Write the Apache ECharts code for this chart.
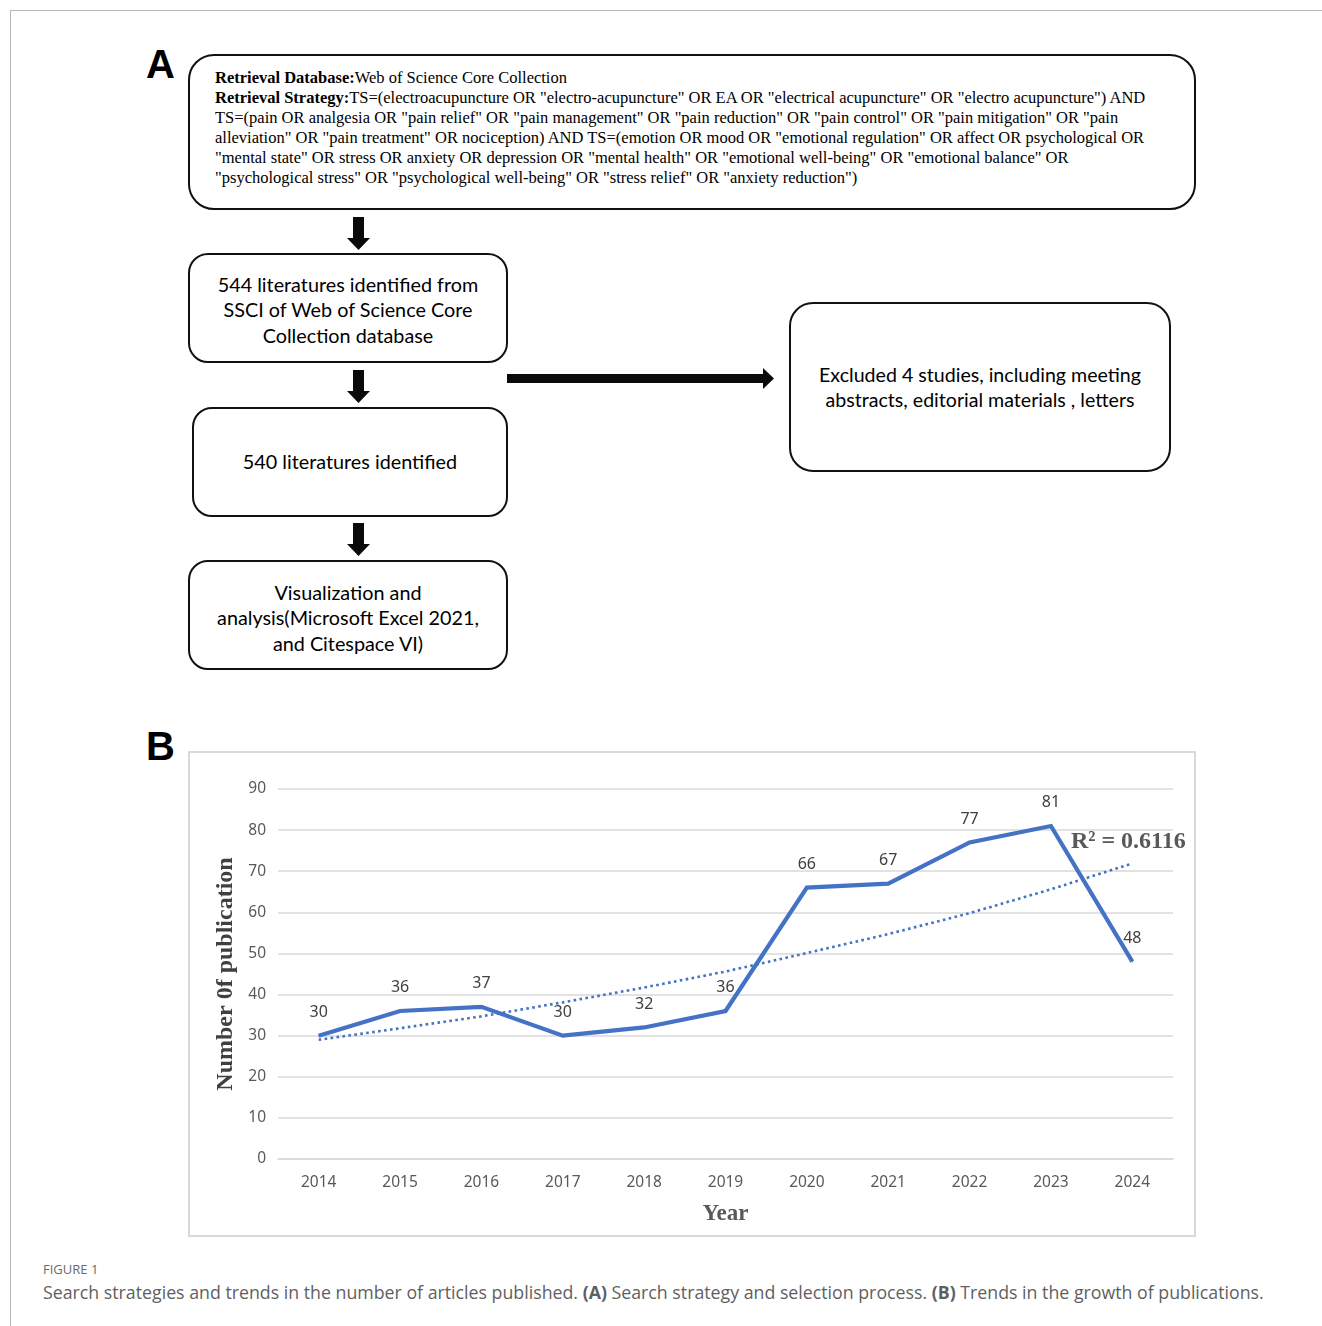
<!DOCTYPE html>
<html lang="en">
<head>
    <meta charset="UTF-8">
    <title>Figure 1</title>
    <script src="https://cdn.jsdelivr.net/npm/echarts@6/dist/echarts.min.js"></script>
    <style type="text/css">
        body { margin: 0; background: #fff; }
        #page { position: relative; width: 1322px; height: 1326px; overflow: hidden; }
        .frameTop { position: absolute; left: 10px; top: 10px; width: 1312px; height: 0; border-top: 1.5px solid #b8b8b8; }
        .frameLeft { position: absolute; left: 10px; top: 10px; width: 0; height: 1316px; border-left: 1.5px solid #b8b8b8; }
        .panel { position: absolute; font-family: "Liberation Sans", Arial, sans-serif; font-weight: bold; font-size: 40px; line-height: 1; color: #000; }
        .box { position: absolute; box-sizing: border-box; border: 2px solid #111; background: #fff;
               display: flex; align-items: center; justify-content: center; text-align: center;
               font-family: Lato, "Open Sans", sans-serif; font-size: 19.8px; line-height: 25.5px; color: #000; }
        #strategy { display: block; text-align: left; padding: 12px 0 0 25px;
                    font-family: "Liberation Serif", "Times New Roman", serif; font-size: 16.5px; line-height: 20px; white-space: nowrap; }
        #chartFrame { position: absolute; left: 188px; top: 751px; width: 1008px; height: 486px; box-sizing: border-box; border: 2px solid #d9d9d9; }
        #chart { position: absolute; left: 188px; top: 751px; width: 1008px; height: 486px; }
        .caption { position: absolute; left: 43px; font-family: "Open Sans", sans-serif; color: #5f5f5f; white-space: nowrap; }
    </style>
</head>
<body>
<div id="page">
    <div class="frameTop"></div>
    <div class="frameLeft"></div>

    <!-- A: search strategy flow -->
    <div class="panel" style="left:146px; top:44px;">A</div>
    <div class="box" id="strategy" style="left:188px; top:54px; width:1008px; height:156px; border-radius:26px;">
        <b>Retrieval Database:</b>Web of Science Core Collection<br>
        <b>Retrieval Strategy:</b>TS=(electroacupuncture OR "electro-acupuncture" OR EA OR "electrical acupuncture" OR "electro acupuncture") AND<br>
        TS=(pain OR analgesia OR "pain relief" OR "pain management" OR "pain reduction" OR "pain control" OR "pain mitigation" OR "pain<br>
        alleviation" OR "pain treatment" OR nociception) AND TS=(emotion OR mood OR "emotional regulation" OR affect OR psychological OR<br>
        "mental state" OR stress OR anxiety OR depression OR "mental health" OR "emotional well-being" OR "emotional balance" OR<br>
        "psychological stress" OR "psychological well-being" OR "stress relief" OR "anxiety reduction")
    </div>
    <div class="box" style="left:188px; top:253px; width:320px; height:110px; border-radius:20px; padding-top:4px;">
        <div>544 literatures identified from<br>SSCI of Web of Science Core<br>Collection database</div>
    </div>
    <div class="box" style="left:192px; top:407px; width:316px; height:110px; border-radius:20px;">
        <div>540 literatures identified</div>
    </div>
    <div class="box" style="left:188px; top:560px; width:320px; height:110px; border-radius:20px; padding-top:6px;">
        <div>Visualization and<br>analysis(Microsoft Excel 2021,<br>and Citespace VI)</div>
    </div>
    <div class="box" style="left:789px; top:302px; width:382px; height:170px; border-radius:24px; font-size:19.6px;">
        <div>Excluded 4 studies, including meeting<br>abstracts, editorial materials , letters</div>
    </div>

    <svg style="position:absolute; left:0; top:0;" width="1322" height="720">
        <g fill="#0a0a0a">
            <!-- down arrows -->
            <polygon points="353,217 364,217 364,238 370,238 358.5,250 347,238 353,238"/>
            <polygon points="353,370 364,370 364,391 370,391 358.5,403 347,391 353,391"/>
            <polygon points="353,523 364,523 364,544 370,544 358.5,556 347,544 353,544"/>
            <!-- right arrow -->
            <polygon points="507,374 763,374 763,368 774,378.5 763,389 763,383 507,383"/>
        </g>
    </svg>

    <!-- B: publication trend -->
    <div class="panel" style="left:146px; top:726px;">B</div>
    <div id="chartFrame"></div>
    <div id="chart"></div>

    <div class="caption" style="top:1260px; font-size:13px; color:#6b6b6b;">FIGURE 1</div>
    <div class="caption" style="top:1280px; font-size:17.75px;">Search strategies and trends in the number of articles published. <b>(A)</b> Search strategy and selection process. <b>(B)</b> Trends in the growth of publications.</div>
</div>

<script>
    // data
    var years = ['2014', '2015', '2016', '2017', '2018', '2019', '2020', '2021', '2022', '2023', '2024'];
    var publications = [30, 36, 37, 30, 32, 36, 66, 67, 77, 81, 48];
    // dotted exponential trendline, value read at each year
    var trend = [29.0, 31.8, 34.7, 38.1, 41.7, 45.6, 50.1, 54.7, 59.8, 65.6, 71.9];
    var rSquared = 'R² = 0.6116';

    var trendData = trend.map(function (v, i) {
        if (i < trend.length - 1) return v;
        return {
            value: v,
            label: {
                show: true, position: 'top', distance: 10, offset: [-4, 0],
                formatter: rSquared,
                fontFamily: 'Liberation Serif', fontWeight: 'bold', fontSize: 24, color: '#595959'
            }
        };
    });

    var myChart = echarts.init(document.getElementById('chart'));
    var option = {
        animation: false,
        grid: { left: 90, right: 23, top: 38, bottom: 78 },
        xAxis: {
            type: 'category',
            data: years,
            boundaryGap: true,
            name: 'Year',
            nameLocation: 'middle',
            nameGap: 44,
            nameTextStyle: { fontFamily: 'Liberation Serif', fontWeight: 'bold', fontSize: 23, color: '#595959' },
            axisLine: { show: true, lineStyle: { color: '#d9d9d9', width: 1.5 } },
            axisTick: { show: false },
            axisLabel: { margin: 16, fontFamily: 'Noto Sans', fontSize: 15.5, color: '#595959' }
        },
        yAxis: {
            type: 'value',
            min: 0,
            max: 90,
            interval: 10,
            name: 'Number 0f publication',
            nameLocation: 'middle',
            nameGap: 40,
            nameRotate: 90,
            nameTextStyle: { fontFamily: 'Liberation Serif', fontWeight: 'bold', fontSize: 24, color: '#404040' },
            axisLine: { show: false },
            axisTick: { show: false },
            axisLabel: { margin: 12, fontFamily: 'Noto Sans', fontSize: 15.5, color: '#595959' },
            splitLine: { lineStyle: { color: '#d9d9d9', width: 1.5 } }
        },
        series: [{
            name: 'Publications',
            type: 'line',
            data: publications,
            symbol: 'circle',
            symbolSize: 1,
            showSymbol: true,
            itemStyle: { color: '#4472C4' },
            lineStyle: { color: '#4472C4', width: 4.2, join: 'miter' },
            label: {
                show: true, position: 'top', distance: 15,
                fontFamily: 'Noto Sans', fontSize: 16, color: '#404040'
            },
            z: 3
        }, {
            name: 'Trend',
            type: 'line',
            data: trendData,
            symbol: 'circle',
            symbolSize: 0,
            showSymbol: true,
            itemStyle: { color: 'transparent' },
            lineStyle: { color: '#4472C4', width: 2.6, type: [2.6, 3.4] },
            label: { show: false },
            z: 2
        }]
    };
    myChart.setOption(option);
</script>
</body>
</html>
